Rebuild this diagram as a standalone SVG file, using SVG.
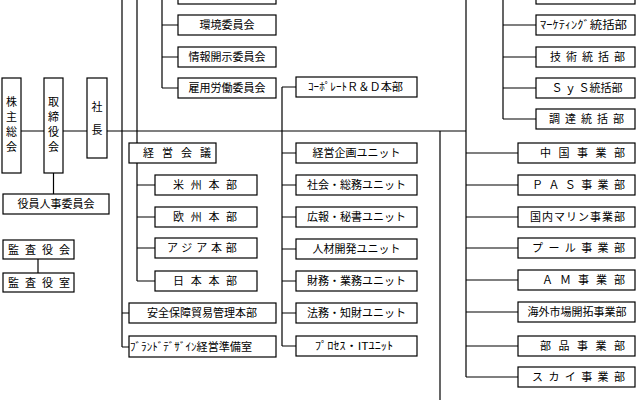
<svg xmlns="http://www.w3.org/2000/svg" width="640" height="400" viewBox="0 0 640 400">
<style>
.b{fill:#fff;stroke:#000;stroke-width:1.2}
.c{fill:none;stroke:#000;stroke-width:1.2}
text{font-family:"Noto Sans CJK JP","Noto Sans CJK SC",sans-serif;font-size:11px;fill:#000}
.m{text-anchor:middle}
</style>
<rect width="640" height="400" fill="#fff"/>
<g id="connectors" class="c">
<path d="M21 131H466"/>
<path d="M53.5 173V194"/>
<path d="M38 259V273"/>
<path d="M162 0V88M162 -6H178M162 25H178M162 57H178M162 88H178"/>
<path d="M122 0V347M122 313H129M122 347H129"/>
<path d="M137 0V281M137 185H155M137 217H155M137 248H155M137 281H155"/>
<path d="M282 87V346M282 87H296M282 153H296M282 185H296M282 217H296M282 249H296M282 281H296M282 313H296M282 346H296"/>
<path d="M440 131V400"/>
<path d="M503 0V119M503 -6H536M503 25H536M503 57H536M503 88H536M503 119H536"/>
<path d="M466 0V377M466 153H518M466 185H518M466 217H518M466 248H518M466 280H518M466 312H518M466 346H518M466 377H518"/>
</g>
<g id="kabunushi"><rect class="b" x="2" y="78" width="19" height="95"/><text class="m"><tspan x="11.5" y="106">株</tspan><tspan x="11.5" y="121">主</tspan><tspan x="11.5" y="136">総</tspan><tspan x="11.5" y="151">会</tspan></text></g>
<g id="torishimariyaku"><rect class="b" x="44" y="78" width="19" height="95"/><text class="m"><tspan x="53.5" y="106">取</tspan><tspan x="53.5" y="121">締</tspan><tspan x="53.5" y="136">役</tspan><tspan x="53.5" y="151">会</tspan></text></g>
<g id="shacho"><rect class="b" x="87" y="78" width="20" height="80"/><text class="m"><tspan x="97" y="111">社</tspan><tspan x="97" y="134">長</tspan></text></g>
<g id="yakuin"><rect class="b" x="3" y="194" width="106" height="20"/><text class="m" x="56" y="208">役員人事委員会</text></g>
<g id="kansayakukai"><rect class="b" x="3" y="240" width="71" height="19"/><text x="8" y="253.5" letter-spacing="6">監査役会</text></g>
<g id="kansayakushitsu"><rect class="b" x="3" y="273" width="71" height="19"/><text x="8" y="286.5" letter-spacing="6">監査役室</text></g>
<g id="iinkai0"><rect class="b" x="178" y="-16" width="98" height="20"/></g>
<g id="kankyo"><rect class="b" x="178" y="15" width="98" height="20"/><text class="m" x="227" y="29">環境委員会</text></g>
<g id="johokaiji"><rect class="b" x="178" y="47" width="98" height="20"/><text class="m" x="227" y="61">情報開示委員会</text></g>
<g id="koyo"><rect class="b" x="178" y="78" width="98" height="20"/><text class="m" x="227" y="92">雇用労働委員会</text></g>
<g id="keieikaigi"><rect class="b" x="129" y="143" width="87" height="20"/><text x="143" y="157" letter-spacing="8">経営会議</text></g>
<g id="beishu"><rect class="b" x="155" y="175" width="102" height="20"/><text x="173" y="189" letter-spacing="6.7">米州本部</text></g>
<g id="oshu"><rect class="b" x="155" y="207" width="102" height="20"/><text x="173" y="221" letter-spacing="6.7">欧州本部</text></g>
<g id="asia"><rect class="b" x="155" y="238" width="102" height="20"/><text x="167" y="252" letter-spacing="3.8">アジア本部</text></g>
<g id="nihon"><rect class="b" x="155" y="271" width="102" height="20"/><text x="173" y="285" letter-spacing="6.7">日本本部</text></g>
<g id="anzen"><rect class="b" x="129" y="303" width="147" height="20"/><text class="m" x="202" y="317">安全保障貿易管理本部</text></g>
<g id="brand"><rect class="b" x="129" y="336" width="147" height="21"/><text x="130" y="350.5" textLength="122" lengthAdjust="spacingAndGlyphs">ﾌﾞﾗﾝﾄﾞﾃﾞｻﾞｲﾝ経営準備室</text></g>
<g id="rd"><rect class="b" x="296" y="77" width="121" height="20"/><text x="308" y="91" textLength="95" lengthAdjust="spacingAndGlyphs">ｺｰﾎﾟﾚｰﾄＲ＆Ｄ本部</text></g>
<g id="keieikikaku"><rect class="b" x="296" y="143" width="121" height="20"/><text class="m" x="356.5" y="157">経営企画ユニット</text></g>
<g id="shakai"><rect class="b" x="296" y="175" width="121" height="20"/><text class="m" x="356.5" y="189">社会・総務ユニット</text></g>
<g id="koho"><rect class="b" x="296" y="207" width="121" height="20"/><text class="m" x="356.5" y="221">広報・秘書ユニット</text></g>
<g id="jinzai"><rect class="b" x="296" y="239" width="121" height="20"/><text class="m" x="356.5" y="253">人材開発ユニット</text></g>
<g id="zaimu"><rect class="b" x="296" y="271" width="121" height="20"/><text class="m" x="356.5" y="285">財務・業務ユニット</text></g>
<g id="homu"><rect class="b" x="296" y="303" width="121" height="20"/><text class="m" x="356.5" y="317">法務・知財ユニット</text></g>
<g id="process"><rect class="b" x="296" y="336" width="121" height="20"/><text x="315" y="350" textLength="78" lengthAdjust="spacingAndGlyphs">ﾌﾟﾛｾｽ・ITﾕﾆｯﾄ</text></g>
<g id="tokatsu0"><rect class="b" x="536" y="-16" width="99" height="20"/></g>
<g id="marketing"><rect class="b" x="536" y="15" width="99" height="20"/><text x="540" y="29" textLength="87" lengthAdjust="spacingAndGlyphs">ﾏｰｹﾃｨﾝｸﾞ統括部</text></g>
<g id="gijutsu"><rect class="b" x="536" y="47" width="99" height="20"/><text x="550" y="61" letter-spacing="5">技術統括部</text></g>
<g id="sys"><rect class="b" x="536" y="78" width="99" height="20"/><text class="m" x="587" y="92">Ｓ ｙ Ｓ統括部</text></g>
<g id="chotatsu"><rect class="b" x="536" y="109" width="99" height="20"/><text x="549" y="123" letter-spacing="5">調達統括部</text></g>
<g id="chugoku"><rect class="b" x="518" y="143" width="117" height="20"/><text x="540" y="157" letter-spacing="7.5">中国事業部</text></g>
<g id="pas"><rect class="b" x="518" y="175" width="117" height="20"/><text x="532" y="189" letter-spacing="5.4">ＰＡＳ事業部</text></g>
<g id="kokunai"><rect class="b" x="518" y="207" width="117" height="20"/><text x="530" y="221" letter-spacing="1">国内マリン事業部</text></g>
<g id="pool"><rect class="b" x="518" y="238" width="117" height="20"/><text x="532" y="252" letter-spacing="5.4">プール事業部</text></g>
<g id="am"><rect class="b" x="518" y="270" width="117" height="20"/><text x="542" y="284" letter-spacing="7">ＡＭ事業部</text></g>
<g id="kaigai"><rect class="b" x="518" y="302" width="117" height="20"/><text class="m" x="577" y="316">海外市場開拓事業部</text></g>
<g id="buhin"><rect class="b" x="518" y="336" width="117" height="20"/><text x="540" y="350" letter-spacing="7.5">部品事業部</text></g>
<g id="sky"><rect class="b" x="518" y="367" width="117" height="20"/><text x="532" y="381" letter-spacing="5.4">スカイ事業部</text></g>
</svg>
